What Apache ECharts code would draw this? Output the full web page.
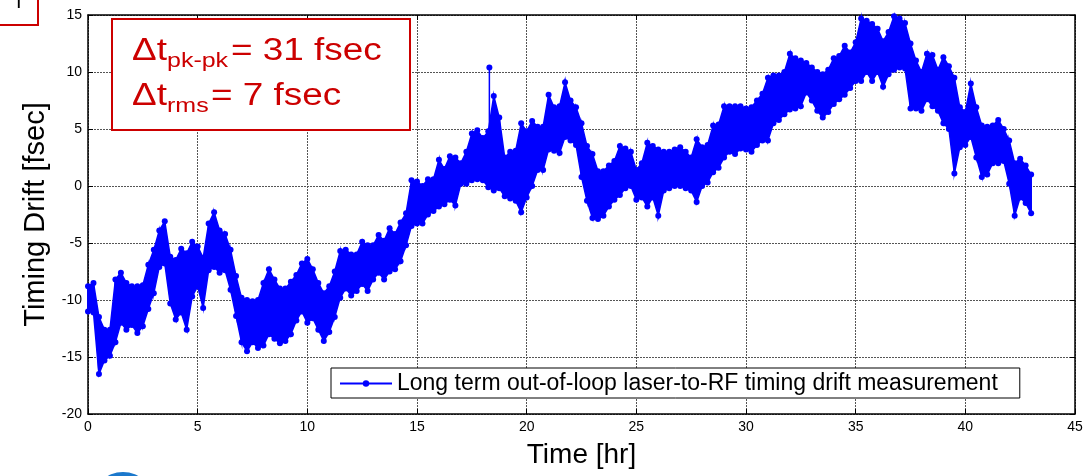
<!DOCTYPE html>
<html>
<head>
<meta charset="utf-8">
<script src="https://cdn.jsdelivr.net/npm/echarts@6/dist/echarts.min.js"></script>
<style>
html, body { margin: 0; padding: 0; background: #fff; }
#chart { width: 1087px; height: 476px; }
</style>
</head>
<body>
<div id="chart"></div>
<script>
// readings taken off the plot every 0.25 hr: upper and lower edge of the trace
var startHr = 0;
var stepHr = 0.25;
var driftHi = [
	-8.8, -8.5, -11.5, -12.6, -12.6, -8.2, -7.6, -8.5, -8.8, -8.8, -8.7, -6.9, -5.6, -3.9, -3.1, -6.2,
	-6.5, -5.5, -5.9, -4.9, -5.3, -6.3, -3.3, -2.3, -3.9, -4.2, -5.6, -7.9, -9.8, -10.0, -10.1, -10.0,
	-8.5, -7.3, -8.2, -9.0, -9.0, -8.4, -7.8, -6.8, -6.4, -7.3, -8.5, -9.4, -8.8, -7.5, -5.7, -5.6,
	-6.0, -6.0, -4.9, -5.2, -5.2, -4.3, -4.8, -3.7, -4.2, -3.2, -2.4, 0.5, 0.4, 0.0, 0.6, 0.6,
	2.3, 1.5, 2.6, 2.5, 2.0, 3.0, 4.6, 4.9, 4.2, 4.8, 7.9, 6.0, 2.5, 3.0, 3.1, 5.5,
	4.8, 5.7, 5.2, 5.2, 8.0, 6.9, 7.0, 9.1, 7.5, 6.9, 5.5, 3.5, 2.8, 1.3, 1.3, 1.8,
	2.2, 3.5, 3.3, 3.0, 1.4, 2.0, 3.8, 3.5, 3.2, 3.0, 3.0, 3.2, 3.4, 3.0, 2.5, 4.1,
	3.4, 3.6, 5.3, 5.4, 7.0, 7.0, 7.0, 7.0, 6.8, 6.9, 7.5, 8.1, 9.5, 9.7, 9.7, 10.0,
	11.6, 11.2, 11.0, 10.8, 10.4, 10.0, 9.8, 10.2, 11.2, 11.4, 12.3, 11.7, 12.6, 14.7, 14.5, 14.2,
	13.8, 12.7, 13.5, 14.9, 14.7, 14.3, 12.5, 11.0, 10.0, 11.6, 11.5, 10.2, 11.3, 10.5, 9.5, 6.9,
	6.5, 9.0, 6.9, 5.3, 5.2, 5.3, 5.8, 5.0, 4.0, 2.0, 2.4, 1.8, 1.0
];
var driftLo = [
	-11.0, -11.1, -16.5, -15.3, -14.9, -13.7, -12.0, -12.6, -12.2, -12.9, -12.3, -10.8, -9.4, -7.1, -6.8, -10.3,
	-11.7, -11.1, -12.6, -9.7, -8.8, -10.7, -7.4, -7.1, -7.6, -7.4, -9.1, -11.4, -13.7, -14.5, -13.7, -14.2,
	-14.0, -13.0, -13.4, -13.8, -13.6, -13.0, -11.8, -11.0, -12.0, -11.6, -12.6, -13.6, -12.8, -11.5, -9.8, -9.0,
	-9.6, -9.2, -8.6, -9.2, -8.2, -7.6, -8.2, -7.5, -7.3, -6.6, -5.2, -3.5, -3.3, -3.3, -2.5, -2.2,
	-1.8, -1.6, -1.2, -1.7, 0.2, 0.2, 0.5, 0.6, 0.5, -0.1, -0.4, -0.2, -0.9, -1.1, -1.3, -2.3,
	-1.0, 0.0, 1.4, 1.4, 3.2, 3.1, 2.9, 4.3, 4.0, 3.6, 0.8, -1.3, -2.8, -2.9, -2.6, -1.8,
	-1.2, -0.8, -0.2, 0.0, -1.2, -1.0, -1.8, -1.0, -2.6, -0.4, -0.2, 0.0, 0.0, -0.2, -0.4, -1.4,
	0.0, 0.3, 1.2, 1.6, 2.5, 3.0, 2.8, 3.3, 3.2, 3.0, 3.6, 4.0, 4.0, 5.5, 5.8, 6.3,
	6.7, 6.8, 7.0, 8.2, 7.5, 6.6, 6.0, 6.5, 7.2, 7.6, 8.0, 8.6, 9.2, 9.2, 10.0, 9.2,
	10.0, 8.7, 9.8, 10.2, 10.4, 10.3, 6.8, 6.8, 6.6, 7.6, 7.0, 6.6, 5.5, 5.0, 1.1, 3.4,
	3.6, 4.3, 2.5, 0.8, 1.0, 2.0, 2.0, 2.2, 0.2, -2.6, -1.0, -1.5, -2.4
];
// the lone spike near 18.3 hr: [time, base, top]
var spike = [18.3, 4.8, 10.4];

var legendName = 'Long term out-of-loop laser-to-RF timing drift measurement';

// band rows [t, lo, hi]; the line goes lo -> hi at each step so its markers sit on the edges
var bandData = [];
var zigData = [];
for (var i = 0; i < driftHi.length; i++) {
	var t = startHr + i * stepHr;
	bandData.push([t, driftLo[i], driftHi[i]]);
	zigData.push([t, driftLo[i]]);
	zigData.push([t, driftHi[i]]);
}

var red = '#cc0000';
var blue = '#0000ff';
var fontFam = '"Liberation Sans", Arial, sans-serif';

var myChart = echarts.init(document.getElementById('chart'));

function axisCommon(extra) {
	var ax = {
		type: 'value',
		axisLine: { show: true, onZero: false, lineStyle: { color: '#000', width: 1.5 } },
		axisTick: { show: true, inside: true, length: 5, lineStyle: { color: '#000' } },
		splitLine: { show: false },
		axisLabel: { show: false }
	};
	for (var k in extra) ax[k] = extra[k];
	return ax;
}

// fill between lower and upper edge, one quad per step
function renderBand(params, api) {
	var i = params.dataIndex;
	if (i >= bandData.length - 1) return;
	var nx = bandData[i + 1];
	var p1 = api.coord([api.value(0), api.value(2)]);
	var p2 = api.coord([nx[0], nx[2]]);
	var p3 = api.coord([nx[0], nx[1]]);
	var p4 = api.coord([api.value(0), api.value(1)]);
	return {
		type: 'polygon',
		shape: { points: [p1, p2, p3, p4] },
		style: { fill: blue, stroke: blue, lineWidth: 1.5 }
	};
}

var option = {
	animation: false,
	backgroundColor: '#fff',
	grid: { left: 88, right: 12, top: 15, bottom: 62, containLabel: false },
	xAxis: [
		axisCommon({
			position: 'bottom',
			min: 0, max: 45, interval: 5,
			name: 'Time [hr]',
			nameLocation: 'middle',
			nameGap: 27,
			nameTextStyle: { fontSize: 28, color: '#000', fontFamily: fontFam },
			axisLabel: { show: true, color: '#000', fontSize: 14, margin: 6, fontFamily: fontFam },
			splitLine: { show: true, lineStyle: { color: '#555', type: [2, 1], width: 1 } }
		}),
		axisCommon({ position: 'top', min: 0, max: 45, interval: 5 })
	],
	yAxis: [
		axisCommon({
			position: 'left',
			min: -20, max: 15, interval: 5,
			name: 'Timing Drift [fsec]',
			nameLocation: 'middle',
			nameGap: 36,
			nameTextStyle: { fontSize: 29, color: '#000', fontFamily: fontFam },
			axisLabel: { show: true, color: '#000', fontSize: 14, margin: 6, fontFamily: fontFam },
			splitLine: { show: true, lineStyle: { color: '#555', type: [2, 1], width: 1 } }
		}),
		axisCommon({ position: 'right', min: -20, max: 15, interval: 5 })
	],
	legend: {
		show: true,
		data: [legendName],
		left: 331,
		top: 368,
		itemWidth: 52,
		itemHeight: 8,
		itemGap: 0,
		padding: [4, 22, 3, 8],
		backgroundColor: '#fff',
		borderColor: '#000',
		borderWidth: 1,
		textStyle: { fontSize: 23, color: '#000', fontFamily: fontFam }
	},
	series: [
		{
			type: 'custom',
			renderItem: renderBand,
			data: bandData,
			encode: { x: 0, y: [1, 2] },
			silent: true,
			z: 2
		},
		{
			name: legendName,
			type: 'line',
			data: zigData,
			showAllSymbol: true,
			symbol: 'circle',
			symbolSize: 6,
			lineStyle: { color: blue, width: 1.5 },
			itemStyle: { color: blue },
			emphasis: { disabled: true },
			z: 3
		},
		{
			type: 'line',
			data: [[spike[0], spike[1]], [spike[0], spike[2]]],
			symbol: 'circle',
			symbolSize: 6,
			lineStyle: { color: blue, width: 1.5 },
			itemStyle: { color: blue },
			emphasis: { disabled: true },
			z: 3
		}
	],
	graphic: [
		// stats box
		{
			type: 'rect', left: 111, top: 18, z: 100,
			shape: { width: 298, height: 111 },
			style: { fill: '#fff', stroke: red, lineWidth: 2 }
		},
		{ type: 'text', x: 132, y: 36, scaleX: 1.19, z: 101, style: { text: 'Δt', fill: red, fontSize: 31, fontFamily: fontFam } },
		{ type: 'text', x: 167, y: 51, scaleX: 1.19, z: 101, style: { text: 'pk-pk', fill: red, fontSize: 21, fontFamily: fontFam } },
		{ type: 'text', x: 231, y: 36, scaleX: 1.19, z: 101, style: { text: '= 31 fsec', fill: red, fontSize: 31, fontFamily: fontFam } },
		{ type: 'text', x: 132, y: 81, scaleX: 1.19, z: 101, style: { text: 'Δt', fill: red, fontSize: 31, fontFamily: fontFam } },
		{ type: 'text', x: 167, y: 96, scaleX: 1.19, z: 101, style: { text: 'rms', fill: red, fontSize: 21, fontFamily: fontFam } },
		{ type: 'text', x: 211, y: 81, scaleX: 1.19, z: 101, style: { text: '= 7 fsec', fill: red, fontSize: 31, fontFamily: fontFam } },
		// clipped box in the top corner
		{
			type: 'rect', left: -2, top: -10, z: 100,
			shape: { width: 39, height: 34 },
			style: { fill: '#fff', stroke: red, lineWidth: 2 }
		},
		{ type: 'text', x: 16, y: -8, z: 101, style: { text: 'I', fill: '#000', fontSize: 20, fontFamily: fontFam } },
		// edge of the logo at the bottom
		{
			type: 'circle', z: 100,
			shape: { cx: 123, cy: 503, r: 31 },
			style: { fill: '#1b78cc' }
		}
	]
};

myChart.setOption(option);
</script>
</body>
</html>
